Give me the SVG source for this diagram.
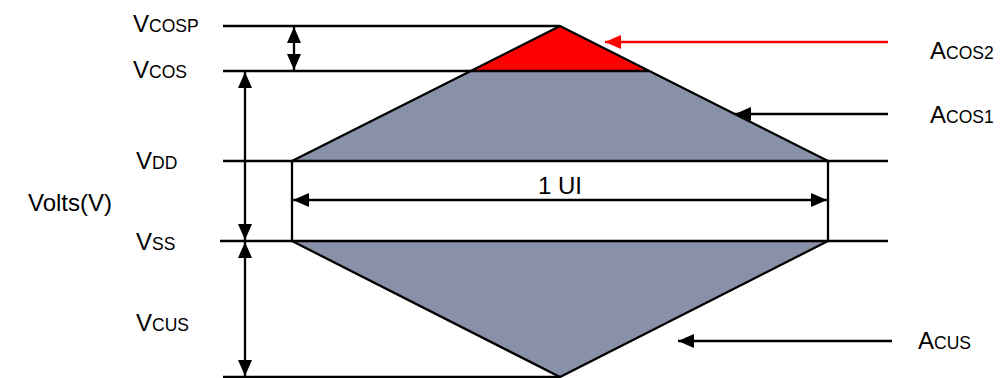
<svg xmlns="http://www.w3.org/2000/svg" width="1004" height="378" viewBox="0 0 1004 378">
<style>
.t{font-family:"Liberation Sans",Arial,sans-serif;font-size:24px;fill:#000}
.s{font-size:17.5px}
.ln{stroke:#000;stroke-width:2.3;fill:none}
.fill{fill:#8891A8}
</style>
<defs>
<marker id="ahb" viewBox="0 0 16 14" refX="16" refY="7" markerWidth="16" markerHeight="14" markerUnits="userSpaceOnUse" orient="auto-start-reverse"><path d="M0,0L16,7L0,14z" fill="#000"/></marker>
<marker id="ahr" viewBox="0 0 16 14" refX="16" refY="7" markerWidth="16" markerHeight="14" markerUnits="userSpaceOnUse" orient="auto-start-reverse"><path d="M0,0L16,7L0,14z" fill="#f00"/></marker>
</defs>
<g id="shapes">
<polygon class="fill" points="471,71 649,71 828,161 292,161"/>
<polygon class="fill" points="292,241 828,241 560,377"/>
<polygon points="560,26 649,71 471,71" fill="#f00"/>
<polyline class="ln" points="292,161 560,26 828,161"/>
<polyline class="ln" points="292,241 560,377 828,241"/>
<line class="ln" x1="292" y1="161" x2="292" y2="241"/>
<line class="ln" x1="828" y1="161" x2="828" y2="241"/>
</g>
<g id="levels">
<line class="ln" x1="223" y1="26" x2="560" y2="26"/>
<line class="ln" x1="223" y1="71" x2="649" y2="71"/>
<line class="ln" x1="223" y1="161" x2="888" y2="161"/>
<line class="ln" x1="220" y1="241" x2="888" y2="241"/>
<line class="ln" x1="223" y1="377" x2="560" y2="377"/>
</g>
<g id="connectors">
<line class="ln" x1="294" y1="27" x2="294" y2="70" marker-start="url(#ahb)" marker-end="url(#ahb)"/>
<line class="ln" x1="245" y1="72" x2="245" y2="240" marker-start="url(#ahb)" marker-end="url(#ahb)"/>
<line class="ln" x1="245" y1="242" x2="245" y2="376" marker-start="url(#ahb)" marker-end="url(#ahb)"/>
<line class="ln" x1="293" y1="200" x2="827" y2="200" marker-start="url(#ahb)" marker-end="url(#ahb)"/>
<line x1="888" y1="42" x2="605" y2="42" stroke="#f00" stroke-width="2.3" marker-end="url(#ahr)"/>
<line class="ln" x1="888" y1="114" x2="735" y2="114" marker-end="url(#ahb)"/>
<line class="ln" x1="892" y1="341" x2="678" y2="341" marker-end="url(#ahb)"/>
</g>
<g id="labels">
<text class="t" x="133" y="32">V<tspan class="s">COSP</tspan></text>
<text class="t" x="133" y="78">V<tspan class="s">COS</tspan></text>
<text class="t" x="136" y="169">V<tspan class="s">DD</tspan></text>
<text class="t" x="136" y="250">V<tspan class="s">SS</tspan></text>
<text class="t" x="136" y="331">V<tspan class="s">CUS</tspan></text>
<text class="t" x="28" y="211">Volts(V)</text>
<text class="t" x="560" y="194" text-anchor="middle">1 UI</text>
<text class="t" x="930" y="59">A<tspan class="s">COS2</tspan></text>
<text class="t" x="930" y="123">A<tspan class="s">COS1</tspan></text>
<text class="t" x="918" y="349">A<tspan class="s">CUS</tspan></text>
</g>
</svg>
